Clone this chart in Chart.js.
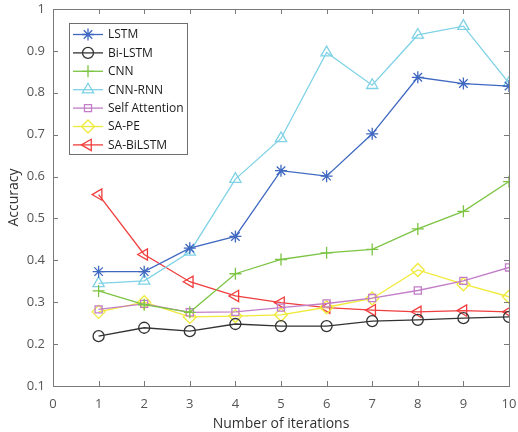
<!DOCTYPE html>
<html>
<head>
<meta charset="utf-8">
<script src="https://cdn.jsdelivr.net/npm/chart.js@4.4.1/dist/chart.umd.min.js"></script>
<style>
  html, body { margin: 0; padding: 0; background: #fff; }
  #wrap { width: 518px; height: 432px; position: relative; }
</style>
</head>
<body>
<div id="wrap"><canvas id="accChart" width="518" height="432"></canvas></div>
<script>
'use strict';

const iterations = [1, 2, 3, 4, 5, 6, 7, 8, 9, 10];
const xTicks = [0, 1, 2, 3, 4, 5, 6, 7, 8, 9, 10];
const yTicks = [0.1, 0.2, 0.3, 0.4, 0.5, 0.6, 0.7, 0.8, 0.9, 1];

const lstm = [0.373, 0.373, 0.429, 0.457, 0.614, 0.601, 0.702, 0.837, 0.822, 0.816];
const biLstm = [0.219, 0.239, 0.231, 0.248, 0.243, 0.243, 0.255, 0.258, 0.262, 0.265];
const cnn = [0.327, 0.294, 0.276, 0.368, 0.402, 0.418, 0.426, 0.475, 0.517, 0.588];
const cnnRnn = [0.345, 0.351, 0.42, 0.594, 0.691, 0.896, 0.818, 0.938, 0.959, 0.823];
const selfAttention = [0.283, 0.296, 0.276, 0.277, 0.287, 0.297, 0.31, 0.328, 0.351, 0.383];
const saPe = [0.277, 0.3, 0.265, 0.267, 0.27, 0.288, 0.309, 0.377, 0.343, 0.313];
const saBiLstm = [0.557, 0.414, 0.349, 0.315, 0.299, 0.287, 0.281, 0.277, 0.28, 0.277];

const font = '"Open Sans", "Liberation Sans", sans-serif';

function series(label, values, color, pointStyle, rotation, radius) {
    return {
        label: label,
        data: values.map((v, i) => ({ x: iterations[i], y: v })),
        borderColor: color,
        backgroundColor: color,
        pointBorderColor: color,
        pointBackgroundColor: pointStyle === 'star' ? color : 'rgba(255,255,255,0)',
        pointStyle: pointStyle,
        pointRotation: rotation,
        pointRadius: radius,
        pointBorderWidth: 1.3,
        borderWidth: 1.3,
        tension: 0,
        fill: false
    };
}

const datasets = [
    series('LSTM', lstm, '#3f68c0', 'star', 0, 6),
    series('Bi-LSTM', biLstm, '#333333', 'circle', 0, 5.5),
    series('CNN', cnn, '#7cc443', 'cross', 0, 6),
    series('CNN-RNN', cnnRnn, '#7fd2e6', 'triangle', 0, 6.5),
    series('Self Attention', selfAttention, '#c27ec8', 'rect', 0, 5),
    series('SA-PE', saPe, '#f0ea3a', 'rectRot', 0, 6.5),
    series('SA-BiLSTM', saBiLstm, '#f03d3d', 'triangle', -90, 6.5)
];

// box with inward ticks on all four sides
const boxPlugin = {
    id: 'boxPlugin',
    afterDraw(chart) {
        const ctx = chart.ctx;
        const a = chart.chartArea;
        const xs = chart.scales.x, ys = chart.scales.y;
        ctx.save();
        ctx.strokeStyle = '#7a7a7a';
        ctx.lineWidth = 1;
        ctx.strokeRect(a.left + 0.5, a.top + 0.5, a.right - a.left, a.bottom - a.top);
        ctx.beginPath();
        xTicks.forEach(t => {
            const px = Math.round(xs.getPixelForValue(t)) + 0.5;
            ctx.moveTo(px, a.bottom); ctx.lineTo(px, a.bottom - 5);
            ctx.moveTo(px, a.top); ctx.lineTo(px, a.top + 5);
        });
        yTicks.forEach(t => {
            const py = Math.round(ys.getPixelForValue(t)) + 0.5;
            ctx.moveTo(a.left, py); ctx.lineTo(a.left + 5, py);
            ctx.moveTo(a.right, py); ctx.lineTo(a.right - 5, py);
        });
        ctx.stroke();
        ctx.restore();
    }
};

// legend drawn inside the plot, upper left
const innerLegend = {
    id: 'innerLegend',
    afterDraw(chart) {
        const ctx = chart.ctx;
        const left = 69, top = 23, w = 118, h = 131, rowH = 18.4;
        ctx.save();
        ctx.fillStyle = '#fff';
        ctx.fillRect(left, top, w, h);
        ctx.strokeStyle = '#6f6f6f';
        ctx.lineWidth = 1;
        ctx.strokeRect(left + 0.5, top + 0.5, w, h);
        chart.data.datasets.forEach((ds, i) => {
            const y = top + 11.5 + i * rowH;
            ctx.strokeStyle = ds.borderColor;
            ctx.lineWidth = 1.3;
            ctx.beginPath();
            ctx.moveTo(73, y); ctx.lineTo(103, y);
            ctx.stroke();
            ctx.fillStyle = ds.pointBackgroundColor;
            Chart.helpers.drawPoint(ctx, {
                pointStyle: ds.pointStyle,
                rotation: ds.pointRotation,
                radius: ds.pointRadius,
                borderWidth: 1.3
            }, 88, y);
            ctx.fillStyle = '#1a1a1a';
            ctx.font = '12px ' + font;
            ctx.textBaseline = 'middle';
            ctx.textAlign = 'left';
            ctx.fillText(ds.label, 108, y + 0.5);
        });
        ctx.restore();
    }
};

new Chart(document.getElementById('accChart'), {
    type: 'line',
    data: { datasets: datasets },
    plugins: [boxPlugin, innerLegend],
    options: {
        responsive: false,
        animation: false,
        devicePixelRatio: 1,
        layout: { padding: { left: 0, top: 9, right: 9, bottom: 0 } },
        plugins: {
            legend: { display: false },
            tooltip: { enabled: false }
        },
        scales: {
            x: {
                type: 'linear',
                min: 0,
                max: 10,
                afterBuildTicks: s => { s.ticks = xTicks.map(v => ({ value: v })); },
                grid: { display: false, drawTicks: false },
                border: { display: false },
                ticks: { color: '#555', font: { family: font, size: 13 }, padding: 10 },
                title: {
                    display: true,
                    text: 'Number of iterations',
                    color: '#333',
                    font: { family: font, size: 14 },
                    padding: { top: 0, bottom: 0 }
                },
                afterFit: s => { s.height = 46; s.paddingLeft = 0; s.paddingRight = 0; }
            },
            y: {
                min: 0.1,
                max: 1,
                afterBuildTicks: s => { s.ticks = yTicks.map(v => ({ value: v })); },
                grid: { display: false, drawTicks: false },
                border: { display: false },
                ticks: {
                    color: '#555',
                    font: { family: font, size: 13 },
                    padding: 8,
                    callback: v => String(+v.toFixed(1))
                },
                title: {
                    display: true,
                    text: 'Accuracy',
                    color: '#333',
                    font: { family: font, size: 14 },
                    padding: { top: 6, bottom: 0 }
                },
                afterFit: s => { s.width = 53; s.paddingTop = 0; s.paddingBottom = 0; }
            }
        }
    }
});
</script>
</body>
</html>
